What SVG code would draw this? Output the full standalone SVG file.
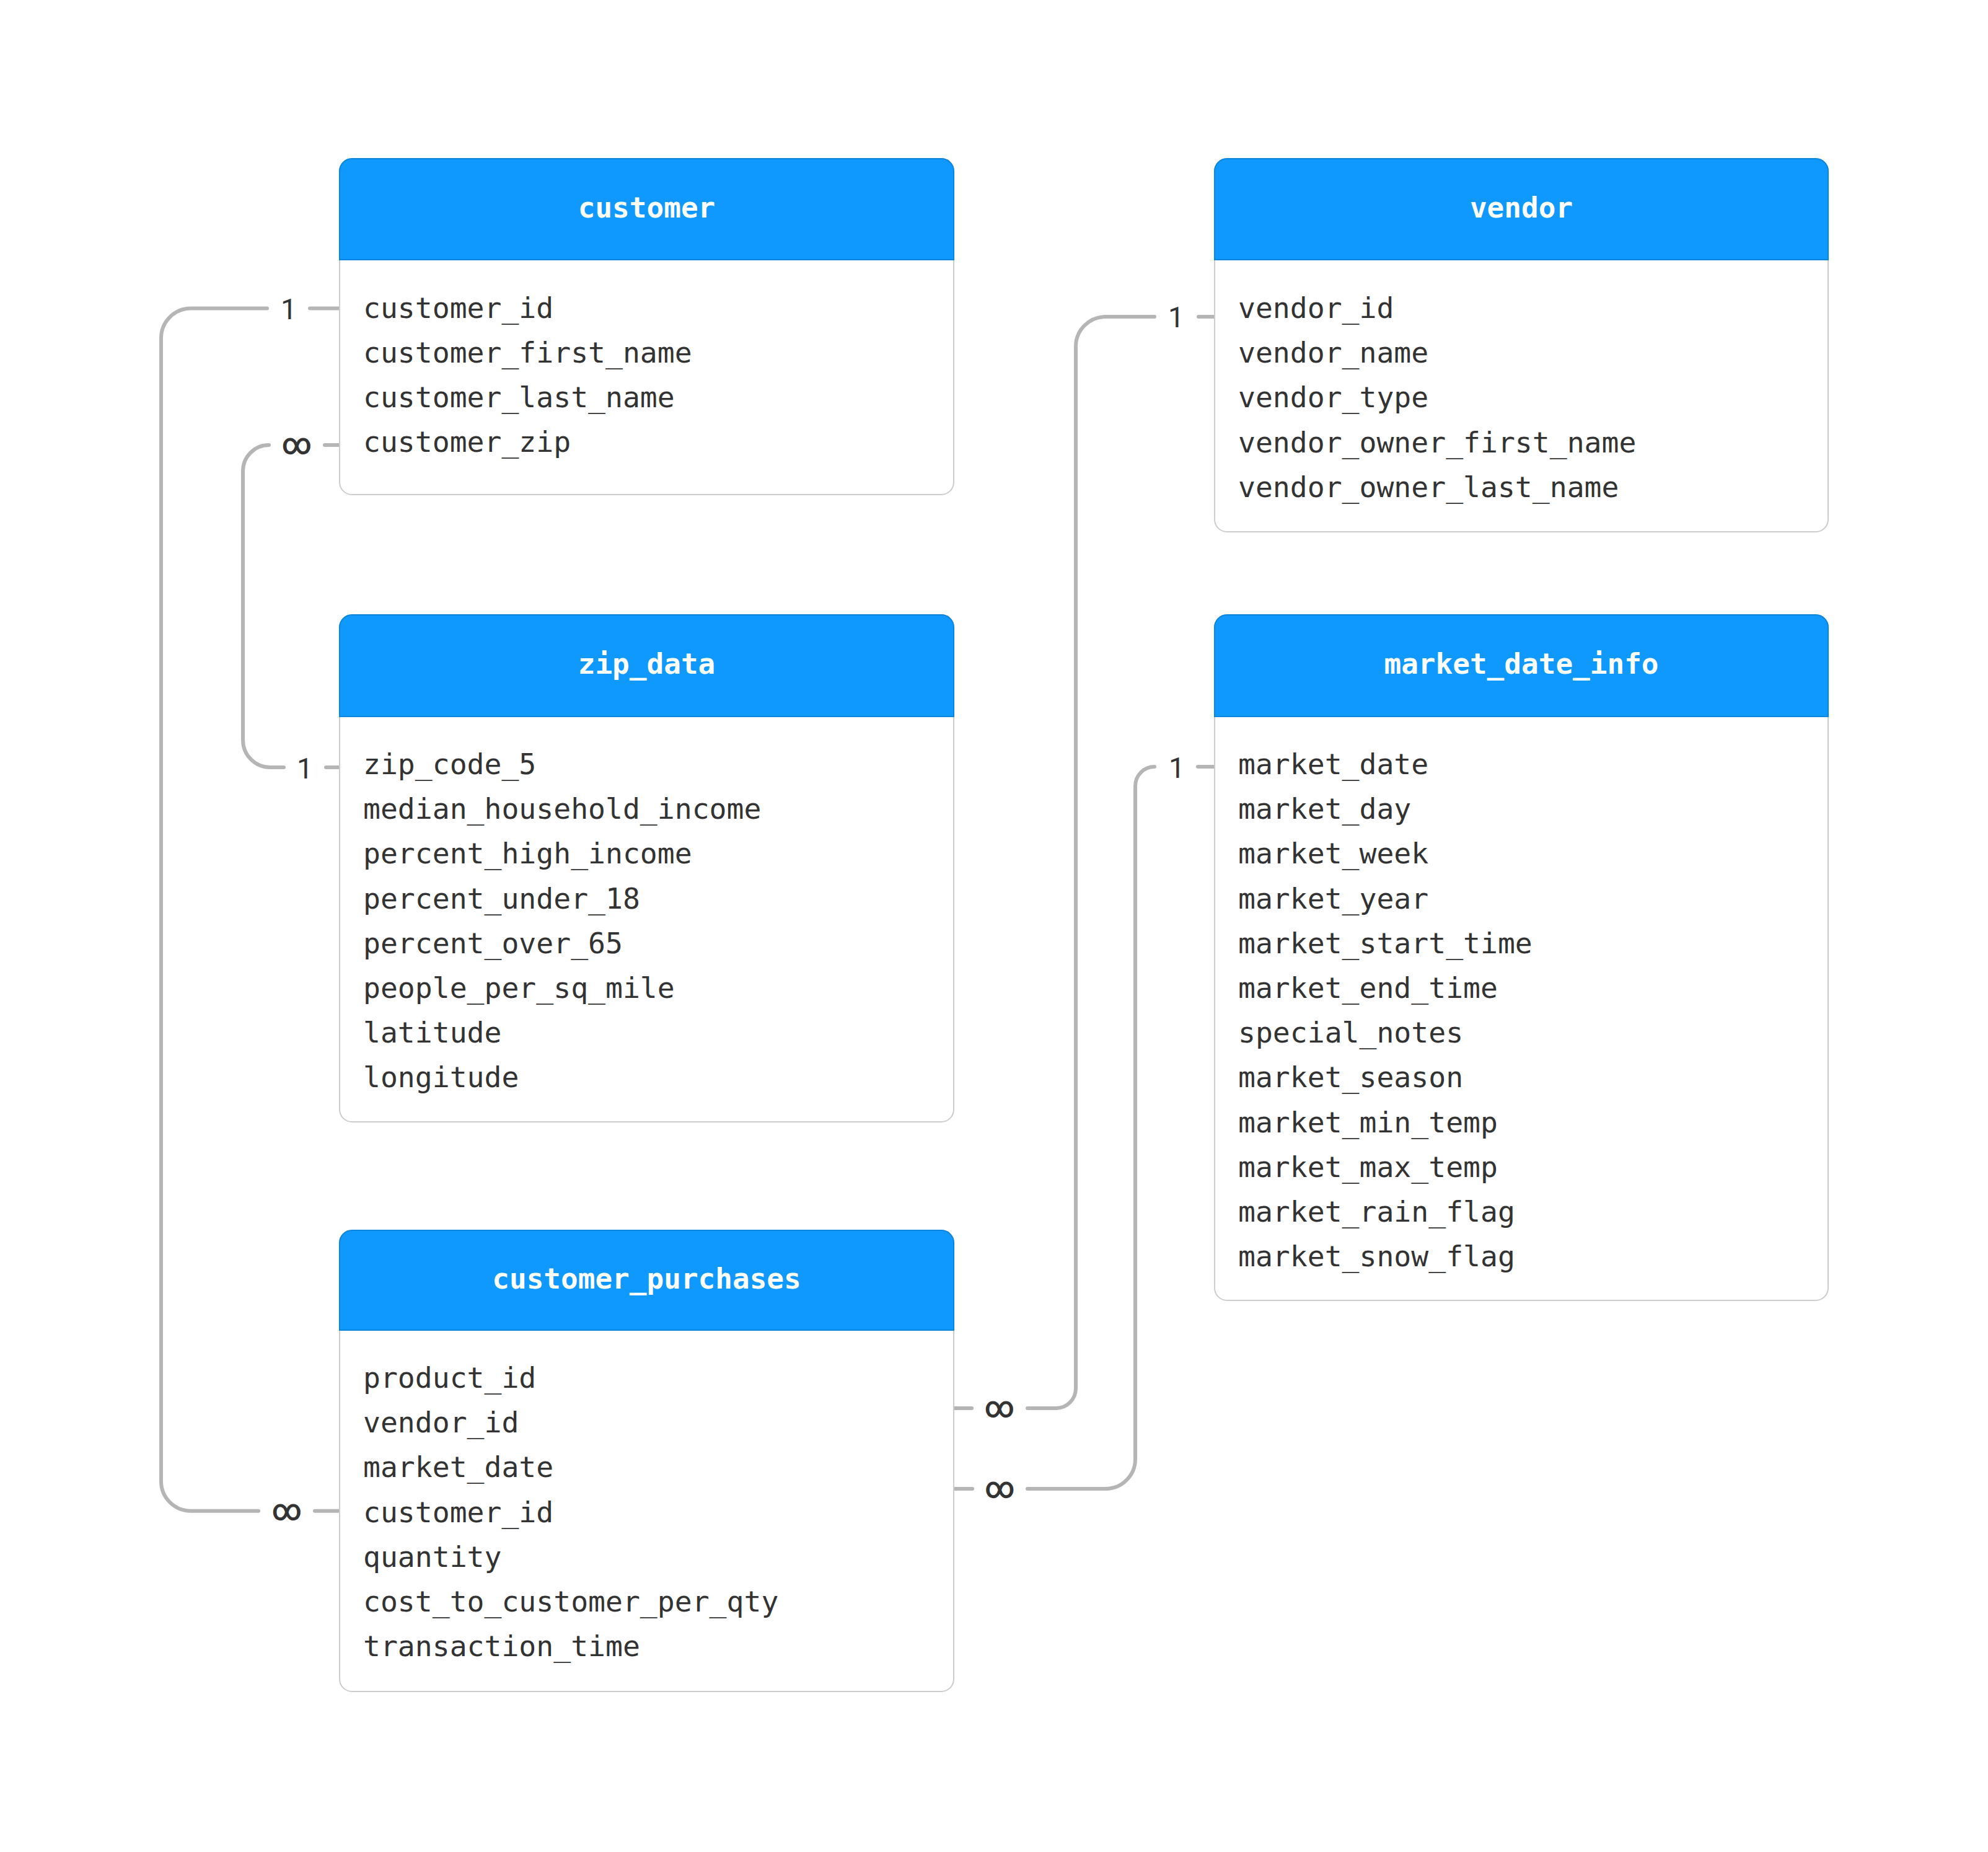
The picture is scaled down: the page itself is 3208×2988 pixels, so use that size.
<svg xmlns="http://www.w3.org/2000/svg" width="3208" height="2988" viewBox="0 0 3208 2988">
<style>
.body{fill:#ffffff;stroke:#cccccc;stroke-width:2}
.head{fill:#0f99ff;stroke:#0b85de;stroke-width:2}
.title{font-family:"DejaVu Sans Mono","Liberation Mono",monospace;font-size:46px;font-weight:bold;fill:#ffffff;text-anchor:middle}
.row{font-family:"DejaVu Sans Mono","Liberation Mono",monospace;font-size:46.4px;fill:#333333}
.conn{fill:none;stroke:#b5b5b5;stroke-width:6;stroke-linecap:round}
.lbl{font-family:Roboto,"DejaVu Sans",sans-serif;font-size:46px;fill:#333333;text-anchor:middle}
.inf{font-family:Roboto,"DejaVu Sans",sans-serif;font-size:46px;fill:#333333;stroke:#333333;stroke-width:1.4;text-anchor:middle}
</style>
<rect width="3208" height="2988" fill="#ffffff"/>
<g id="connectors">
  <path class="conn" d="M500 497.5 H548"/>
  <path class="conn" d="M431 497.5 H308 A48 48 0 0 0 260 545.5 V2389.7 A48 48 0 0 0 308 2437.7 H417"/>
  <path class="conn" d="M508 2437.7 H548"/>
  <text class="lbl" x="466" y="515">1</text>
  <text class="inf" x="463" y="2452">∞</text>

  <path class="conn" d="M524 718 H548"/>
  <path class="conn" d="M434 718 A42 42 0 0 0 392 760 V1194 A44 44 0 0 0 436 1238 H458"/>
  <path class="conn" d="M526 1238 H548"/>
  <text class="inf" x="479" y="732">∞</text>
  <text class="lbl" x="492" y="1255.5">1</text>

  <path class="conn" d="M1934 511 H1960"/>
  <path class="conn" d="M1863 511 H1784 A48 48 0 0 0 1736 559 V2240 A32 32 0 0 1 1704 2272 H1658"/>
  <path class="conn" d="M1568 2272 H1539"/>
  <text class="lbl" x="1898" y="528">1</text>
  <text class="inf" x="1613" y="2286">∞</text>

  <path class="conn" d="M1933 1237 H1960"/>
  <path class="conn" d="M1863 1237 A31 31 0 0 0 1832 1268 V2354 A48 48 0 0 1 1784 2402 H1658"/>
  <path class="conn" d="M1569 2402 H1539"/>
  <text class="lbl" x="1899" y="1254.5">1</text>
  <text class="inf" x="1613.5" y="2416">∞</text>
</g>
<g id="customer">
  <rect class="body" x="548" y="256" width="991" height="542" rx="20"/>
  <path class="head" d="M548 419 V276 A20 20 0 0 1 568 256 H1519 A20 20 0 0 1 1539 276 V419 Z"/>
  <text class="title" x="1043.5" y="351">customer</text>
  <text class="row" x="586" y="513">customer_id</text>
  <text class="row" x="586" y="585">customer_first_name</text>
  <text class="row" x="586" y="657">customer_last_name</text>
  <text class="row" x="586" y="729">customer_zip</text>
</g>
<g id="vendor">
  <rect class="body" x="1960" y="256" width="990" height="602" rx="20"/>
  <path class="head" d="M1960 419 V276 A20 20 0 0 1 1980 256 H2930 A20 20 0 0 1 2950 276 V419 Z"/>
  <text class="title" x="2455" y="351">vendor</text>
  <text class="row" x="1998" y="513">vendor_id</text>
  <text class="row" x="1998" y="585">vendor_name</text>
  <text class="row" x="1998" y="657">vendor_type</text>
  <text class="row" x="1998" y="730">vendor_owner_first_name</text>
  <text class="row" x="1998" y="802">vendor_owner_last_name</text>
</g>
<g id="zip_data">
  <rect class="body" x="548" y="992" width="991" height="818" rx="20"/>
  <path class="head" d="M548 1156 V1012 A20 20 0 0 1 568 992 H1519 A20 20 0 0 1 1539 1012 V1156 Z"/>
  <text class="title" x="1043.5" y="1087">zip_data</text>
  <text class="row" x="586" y="1249">zip_code_5</text>
  <text class="row" x="586" y="1321">median_household_income</text>
  <text class="row" x="586" y="1393">percent_high_income</text>
  <text class="row" x="586" y="1466">percent_under_18</text>
  <text class="row" x="586" y="1538">percent_over_65</text>
  <text class="row" x="586" y="1610">people_per_sq_mile</text>
  <text class="row" x="586" y="1682">latitude</text>
  <text class="row" x="586" y="1754">longitude</text>
</g>
<g id="market_date_info">
  <rect class="body" x="1960" y="992" width="990" height="1106" rx="20"/>
  <path class="head" d="M1960 1156 V1012 A20 20 0 0 1 1980 992 H2930 A20 20 0 0 1 2950 1012 V1156 Z"/>
  <text class="title" x="2455" y="1087">market_date_info</text>
  <text class="row" x="1998" y="1249">market_date</text>
  <text class="row" x="1998" y="1321">market_day</text>
  <text class="row" x="1998" y="1393">market_week</text>
  <text class="row" x="1998" y="1466">market_year</text>
  <text class="row" x="1998" y="1538">market_start_time</text>
  <text class="row" x="1998" y="1610">market_end_time</text>
  <text class="row" x="1998" y="1682">special_notes</text>
  <text class="row" x="1998" y="1754">market_season</text>
  <text class="row" x="1998" y="1827">market_min_temp</text>
  <text class="row" x="1998" y="1899">market_max_temp</text>
  <text class="row" x="1998" y="1971">market_rain_flag</text>
  <text class="row" x="1998" y="2043">market_snow_flag</text>
</g>
<g id="customer_purchases">
  <rect class="body" x="548" y="1985" width="991" height="744" rx="20"/>
  <path class="head" d="M548 2146 V2005 A20 20 0 0 1 568 1985 H1519 A20 20 0 0 1 1539 2005 V2146 Z"/>
  <text class="title" x="1043.5" y="2079">customer_purchases</text>
  <text class="row" x="586" y="2239">product_id</text>
  <text class="row" x="586" y="2311">vendor_id</text>
  <text class="row" x="586" y="2383">market_date</text>
  <text class="row" x="586" y="2456">customer_id</text>
  <text class="row" x="586" y="2528">quantity</text>
  <text class="row" x="586" y="2600">cost_to_customer_per_qty</text>
  <text class="row" x="586" y="2672">transaction_time</text>
</g>
</svg>
